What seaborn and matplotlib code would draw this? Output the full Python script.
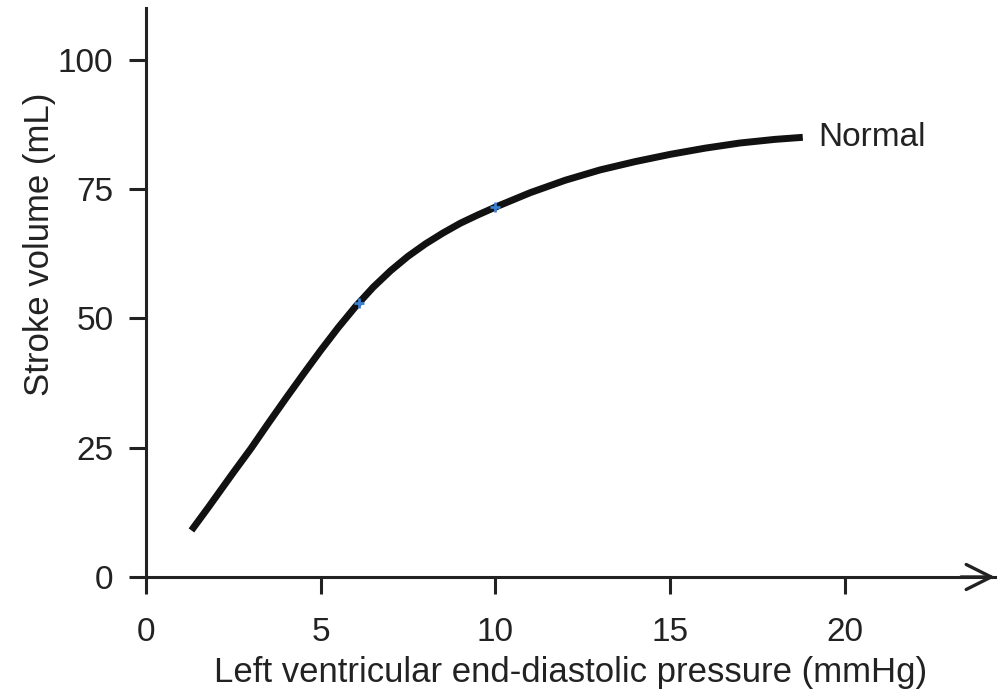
import numpy as np
import pandas as pd
import matplotlib
matplotlib.use('Agg')
import matplotlib.pyplot as plt
import seaborn as sns

# Frank-Starling curve, values
pressure = [1.3, 1.8, 2.5, 3.0, 3.5, 4.0, 4.5, 5.0, 5.5, 6.0, 6.5, 7.0, 7.5, 8.0,
            8.5, 9.0, 9.5, 10.0, 11.0, 12.0, 13.0, 14.0, 15.0, 16.0, 17.0, 18.0, 18.8]
stroke_volume = [9.0, 13.6, 20.2, 24.8, 29.7, 34.5, 39.2, 43.8, 48.2, 52.3, 56.0, 59.2,
                 62.0, 64.4, 66.5, 68.4, 70.0, 71.5, 74.3, 76.7, 78.7, 80.3, 81.7, 82.9,
                 83.9, 84.6, 85.0]
marker_x = [6.1, 10.0]
marker_y = [53.0, 71.6]
curve_label = 'Normal'

x_ticks = [0, 5, 10, 15, 20]
y_ticks = [0, 25, 50, 75, 100]

df = pd.DataFrame({'pressure': pressure, 'sv': stroke_volume})

sns.set_style('ticks')
plt.rcParams['font.family'] = ['Liberation Sans', 'DejaVu Sans']

ink = '#222222'
fig = plt.figure(figsize=(10.07, 6.96), dpi=100)
ax = fig.add_axes([0.145, 0.171, 0.843, 0.8175])

sns.lineplot(data=df, x='pressure', y='sv', color='#111111', linewidth=5, ax=ax,
             solid_capstyle='butt', solid_joinstyle='round')
ax.scatter(marker_x, marker_y, marker='+', color='#3a7fd0', s=45, linewidths=2, zorder=3)
ax.text(pressure[-1] + 0.45, stroke_volume[-1], curve_label, fontsize=24,
        va='center', ha='left', color=ink)

ax.set_xlim(0, 24.3)
ax.set_ylim(0, 110)
ax.set_xticks(x_ticks)
ax.set_yticks(y_ticks)
ax.tick_params(axis='both', length=12.5, width=2.2, color=ink, labelsize=24,
               labelcolor=ink)
ax.tick_params(axis='x', pad=16)
ax.tick_params(axis='y', pad=11)
for s in ['top', 'right']:
    ax.spines[s].set_visible(False)
for s in ['left', 'bottom']:
    ax.spines[s].set_linewidth(2.2)
    ax.spines[s].set_color(ink)

# open arrow head at the end of the x axis
ax.annotate('', xy=(1.0, 0), xycoords='axes fraction', xytext=(0.96, 0),
            arrowprops=dict(arrowstyle='->,head_length=0.6,head_width=0.3', lw=2.4,
                            color=ink, mutation_scale=30, shrinkA=0, shrinkB=0))

ax.set_xlabel('Left ventricular end-diastolic pressure (mmHg)', fontsize=25, color=ink,
              labelpad=6)
ax.set_ylabel('Stroke volume (mL)', fontsize=25, color=ink)
ax.yaxis.set_label_coords(-0.106, 0.585)

fig.savefig('out.png', dpi=100)
